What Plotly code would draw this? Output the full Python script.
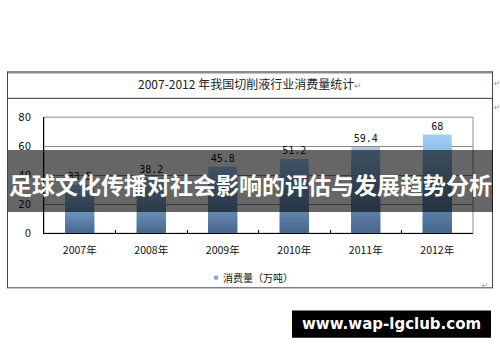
import plotly.graph_objects as go

# ---- data ----
years = ["2007年", "2008年", "2009年", "2010年", "2011年", "2012年"]
consumption = [33.5, 38.2, 45.8, 51.2, 59.4, 68.0]
series_name = "消费量（万吨）"
chart_title = "2007-2012 年我国切削液行业消费量统计"
y_ticks = [0, 20, 40, 60, 80]
banner_text = "足球文化传播对社会影响的评估与发展趋势分析"
watermark_text = "www.wap-lgclub.com"

W, H = 500, 362
def px(x): return x / W
def py(y): return 1 - y / H

fig = go.Figure()

# gradient bars: overlay progressively shorter bars (light top -> dark bottom)
N = 20
top_rgb = (160, 207, 250)
bot_rgb = (72, 102, 140)
for k in range(N):
    frac = (N - k) / N
    cf = (N - k - 0.5) / N
    c = tuple(int(round(bot_rgb[i] + (top_rgb[i] - bot_rgb[i]) * cf)) for i in range(3))
    fig.add_trace(go.Bar(
        x=years,
        y=[v * frac for v in consumption],
        width=0.4,
        marker=dict(color="rgb(%d,%d,%d)" % c, line=dict(width=0)),
        text=[("%g" % v) for v in consumption] if k == 0 else None,
        textposition="outside" if k == 0 else "none",
        textfont=dict(family="DejaVu Sans Mono", size=10, color="#111"),
        cliponaxis=False,
        showlegend=False,
        hoverinfo="skip",
        name=series_name,
    ))

fig.update_layout(
    width=W, height=H,
    margin=dict(l=0, r=0, t=0, b=0),
    paper_bgcolor="white", plot_bgcolor="white",
    barmode="overlay",
    showlegend=False,
    font=dict(family="Noto Sans CJK SC", color="#111"),
    xaxis=dict(
        domain=[px(44), px(473)],
        showline=True, linecolor="#000", linewidth=1,
        ticks="inside", tickson="boundaries", ticklen=3, tickcolor="#000",
        tickfont=dict(family="Noto Sans CJK SC", size=10.5, color="#111"),
        ticklabelstandoff=7,
        showgrid=False, zeroline=False, fixedrange=True,
    ),
    yaxis=dict(
        domain=[py(235), py(115)],
        range=[0, 80], tickvals=y_ticks,
        showline=True, linecolor="#000", linewidth=1,
        ticks="", showgrid=True, gridcolor="#8c8c8c", gridwidth=1,
        zeroline=False,
        tickfont=dict(family="DejaVu Sans", size=10, color="#111"),
        ticklabelstandoff=10,
        fixedrange=True,
    ),
)

shapes = []
# plot area frame (top/right gray)
shapes.append(dict(type="rect", xref="x domain", yref="y domain", x0=0, x1=1, y0=0, y1=1,
                   line=dict(color="#8c8c8c", width=1), layer="below"))
# outer table frame
shapes.append(dict(type="line", xref="paper", yref="paper", x0=px(7), x1=px(493), y0=py(68.5), y1=py(68.5),
                   line=dict(color="#8a8a8a", width=2.5)))
shapes.append(dict(type="line", xref="paper", yref="paper", x0=px(7.5), x1=px(7.5), y0=py(68), y1=py(291.5),
                   line=dict(color="#444", width=1)))
shapes.append(dict(type="line", xref="paper", yref="paper", x0=px(492.5), x1=px(492.5), y0=py(68), y1=py(291.5),
                   line=dict(color="#444", width=1)))
shapes.append(dict(type="line", xref="paper", yref="paper", x0=px(7), x1=px(493), y0=py(291.5), y1=py(291.5),
                   line=dict(color="#444", width=1)))
shapes.append(dict(type="line", xref="paper", yref="paper", x0=px(7), x1=px(493), y0=py(95.5), y1=py(95.5),
                   line=dict(color="#333", width=1)))
# legend swatch
shapes.append(dict(type="rect", xref="paper", yref="paper", x0=px(214), x1=px(218), y0=py(283), y1=py(279),
                   fillcolor="#7fa9dc", line=dict(width=0)))
# banner
shapes.append(dict(type="rect", xref="paper", yref="paper", x0=px(8), x1=px(493), y0=py(213), y1=py(149),
                   fillcolor="rgba(0,0,0,0.6)", line=dict(width=0), layer="above"))
# watermark box
shapes.append(dict(type="rect", xref="paper", yref="paper", x0=px(292), x1=px(491), y0=py(343), y1=py(315),
                   fillcolor="#000", line=dict(width=0), layer="above"))
fig.update_layout(shapes=shapes)

ann = []
ann.append(dict(xref="paper", yref="paper", x=px(250), y=py(80), xanchor="center", yanchor="middle",
                text=chart_title + "<span style='color:#999;font-size:9px'>↵</span>", showarrow=False,
                font=dict(family="Noto Sans CJK SC", size=12, color="#222")))
for yy in (80, 105):
    ann.append(dict(xref="paper", yref="paper", x=px(497), y=py(yy), xanchor="center", yanchor="middle",
                    text="↵", showarrow=False, font=dict(family="DejaVu Sans", size=8, color="#999")))
ann.append(dict(xref="paper", yref="paper", x=px(485), y=py(289), xanchor="center", yanchor="middle",
                text="↵", showarrow=False, font=dict(family="DejaVu Sans", size=8, color="#999")))
ann.append(dict(xref="paper", yref="paper", x=px(221), y=py(281), xanchor="left", yanchor="middle",
                text=series_name, showarrow=False,
                font=dict(family="Noto Sans CJK SC", size=10, color="#111")))
ann.append(dict(xref="paper", yref="paper", x=px(250), y=py(184), xanchor="center", yanchor="middle",
                text="<b>" + banner_text + "</b>", showarrow=False,
                font=dict(family="Noto Sans CJK SC", size=23, color="white")))
ann.append(dict(xref="paper", yref="paper", x=px(391), y=py(329), xanchor="center", yanchor="middle",
                text="<b>" + watermark_text + "</b>", showarrow=False,
                font=dict(family="DejaVu Sans", size=15, color="white")))
fig.update_layout(annotations=ann)

fig.write_html("out.html")
